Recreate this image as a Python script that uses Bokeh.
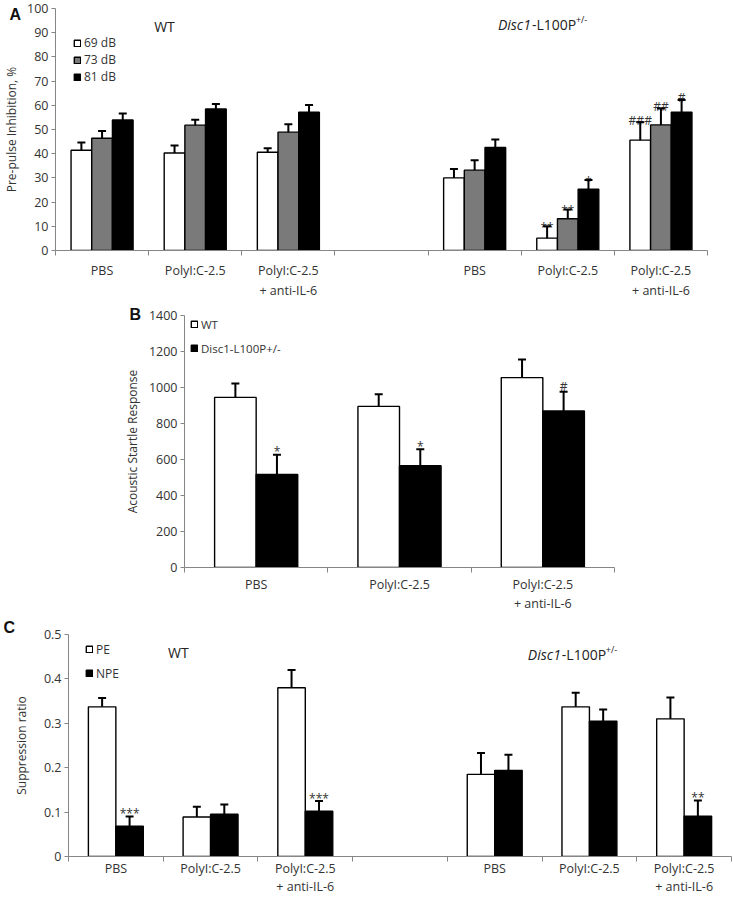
from bokeh.plotting import figure
from bokeh.models import (ColumnDataSource, Range1d, FixedTicker, Legend, LegendItem,
                          Whisker, TeeHead, LinearAxis)
from bokeh.layouts import column
from bokeh.core.properties import value
from bokeh.embed import file_html
from bokeh.resources import INLINE

FONT = "Open Sans"
AX = "#868686"
TXT = "#333333"

# ---------------- data ----------------
treat_line1 = ["PBS", "PolyI:C-2.5", "PolyI:C-2.5"]
treat_line2 = ["", "", "+ anti-IL-6"]

# Panel A: pre-pulse inhibition (%)
a_series = ["69 dB", "73 dB", "81 dB"]
wt_69 = [41.4, 40.3, 40.6]
wt_69_err = [3.2, 3.1, 1.7]
wt_73 = [46.4, 51.8, 48.9]
wt_73_err = [3.0, 2.2, 3.3]
wt_81 = [53.9, 58.5, 57.1]
wt_81_err = [2.7, 2.0, 3.0]
disc_69 = [30.0, 5.1, 45.6]
disc_69_err = [3.7, 4.9, 7.4]
disc_73 = [33.2, 13.1, 51.9]
disc_73_err = [4.1, 3.8, 6.8]
disc_81 = [42.6, 25.3, 57.2]
disc_81_err = [3.3, 3.8, 5.0]
disc_69_sig = ["", "**", "###"]
disc_73_sig = ["", "**", "##"]
disc_81_sig = ["", "*", "#"]

# Panel B: acoustic startle response
b_series = ["WT", "Disc1-L100P+/-"]
asr_wt = [945, 895, 1055]
asr_wt_err = [77, 68, 101]
asr_disc = [517, 565, 870]
asr_disc_err = [110, 92, 106]
asr_disc_sig = ["*", "*", "#"]

# Panel C: suppression ratio
c_series = ["PE", "NPE"]
pe_wt = [0.337, 0.089, 0.380]
pe_wt_err = [0.020, 0.023, 0.040]
npe_wt = [0.068, 0.095, 0.102]
npe_wt_err = [0.022, 0.022, 0.023]
pe_disc = [0.185, 0.337, 0.310]
pe_disc_err = [0.048, 0.032, 0.048]
npe_disc = [0.194, 0.305, 0.091]
npe_disc_err = [0.035, 0.026, 0.035]
npe_wt_sig = ["***", "", "***"]
npe_disc_sig = ["", "", "**"]

FILLS = {"white": "#ffffff", "gray": "#7a7a7a", "black": "#000000"}


def style(p, yticks, ylabel, centers, bounds, line1, line2, ylab_standoff, s1, s2,
          ylabel_overrides=None):
    p.outline_line_color = None
    p.grid.grid_line_color = None
    p.background_fill_color = "white"
    p.border_fill_color = "white"
    ya = p.yaxis[0]
    ya.ticker = FixedTicker(ticks=yticks)
    if ylabel_overrides:
        ya.major_label_overrides = ylabel_overrides
    ya.axis_line_color = AX
    ya.major_tick_line_color = AX
    ya.major_tick_out = 4
    ya.major_tick_in = 0
    ya.minor_tick_line_color = None
    ya.major_label_text_font = FONT
    ya.major_label_text_font_size = "12.5px"
    ya.major_label_text_color = TXT
    ya.major_label_standoff = 3
    ya.axis_label = ylabel
    ya.axis_label_text_font = FONT
    ya.axis_label_text_font_size = "12px"
    ya.axis_label_text_font_style = "normal"
    ya.axis_label_text_color = TXT
    ya.axis_label_standoff = ylab_standoff
    xa = p.xaxis[0]
    xa.ticker = FixedTicker(ticks=centers, minor_ticks=bounds)
    xa.major_label_overrides = {c: l for c, l in zip(centers, line1)}
    xa.axis_line_color = AX
    xa.major_tick_line_color = None
    xa.major_tick_out = 0
    xa.major_tick_in = 0
    xa.minor_tick_line_color = AX
    xa.minor_tick_out = 5
    xa.minor_tick_in = 0
    xa.major_label_text_font = FONT
    xa.major_label_text_font_size = "12.5px"
    xa.major_label_text_color = TXT
    xa.major_label_standoff = s1
    x2 = LinearAxis(ticker=FixedTicker(ticks=centers),
                    major_label_overrides={c: l for c, l in zip(centers, line2)},
                    axis_line_color=None, major_tick_line_color=None,
                    minor_tick_line_color=None, major_tick_out=0, major_tick_in=0,
                    minor_tick_out=0, minor_tick_in=0, major_label_standoff=s2,
                    major_label_text_font=FONT, major_label_text_font_size="12.5px",
                    major_label_text_color=TXT)
    p.add_layout(x2, "below")


def bars(p, xs, tops, errs, fill, width):
    src = ColumnDataSource(dict(x=xs, top=tops, upper=[t + e for t, e in zip(tops, errs)]))
    r = p.vbar(x="x", top="top", width=width, source=src, fill_color=fill,
               line_color="black", line_width=1.4)
    w = Whisker(source=src, base="x", lower="top", upper="upper", dimension="height",
                line_color="black", line_width=2, level="overlay",
                upper_head=TeeHead(size=8, line_color="black", line_width=2),
                lower_head=None)
    p.add_layout(w)
    return r


def sig_marks(p, xs, tops, errs, marks, star_off, hash_off):
    src = ColumnDataSource(dict(x=xs, y=[t + e for t, e in zip(tops, errs)], t=marks,
                                yo=[hash_off if "#" in m else star_off for m in marks]))
    p.text(x="x", y="y", text="t", source=src, text_align="center",
           text_baseline="alphabetic", y_offset="yo", level="overlay",
           text_font=value(FONT), text_font_size="12px", text_color=TXT)


def genotype_title(p, x, y):
    p.text(x=[x], y=[y], text=["Disc1"], text_font=value(FONT), text_font_style="italic",
           text_font_size="14px", text_baseline="middle", text_align="left", text_color="#222222")
    p.text(x=[x], y=[y], text=["-L100P"], x_offset=34, text_font=value(FONT),
           text_font_size="14px", text_baseline="middle", text_align="left", text_color="#222222")
    p.text(x=[x], y=[y], text=["+/-"], x_offset=78, y_offset=-5, text_font=value(FONT),
           text_font_size="9px", text_baseline="middle", text_align="left", text_color="#222222")


def make_legend(p, names, renderers, vx, vy, row_h, fs="12px"):
    leg = Legend(items=[LegendItem(label=n, renderers=[r]) for n, r in zip(names, renderers)],
                 location=(vx, vy), border_line_color=None, background_fill_alpha=0,
                 padding=0, spacing=0, margin=0, label_standoff=3,
                 glyph_width=8, glyph_height=8, label_height=row_h,
                 label_text_font=FONT, label_text_font_size=fs, label_text_color=TXT)
    p.add_layout(leg)


def panel_letter(p, text, offset, standoff):
    t = p.title
    t.text = text
    t.align = "left"
    t.vertical_align = "bottom"
    t.offset = offset
    t.standoff = standoff
    t.text_font = "Liberation Sans"
    t.text_font_style = "bold"
    t.text_font_size = "16px"
    t.text_color = "#111111"


W = 733

# ---------------- Panel A ----------------
centers7 = [i + 0.5 for i in range(3)] + [i + 4.5 for i in range(3)]
bounds7 = list(range(8))
FA = 242
pA = figure(width=W, height=301, x_range=Range1d(0, 7), y_range=Range1d(0, 100),
            output_backend="svg", toolbar_location=None, frame_align=False,
            min_border_left=54, min_border_right=26, min_border_top=8, min_border_bottom=51)
style(pA, list(range(0, 101, 10)), "Pre-pulse Inhibition, %", centers7, bounds7,
      treat_line1 * 2, treat_line2 * 2, 4, 6, 0)
bw = 0.222
rA = []
for k, (wv, we, dv, de, ds, fill) in enumerate([
        (wt_69, wt_69_err, disc_69, disc_69_err, disc_69_sig, FILLS["white"]),
        (wt_73, wt_73_err, disc_73, disc_73_err, disc_73_sig, FILLS["gray"]),
        (wt_81, wt_81_err, disc_81, disc_81_err, disc_81_sig, FILLS["black"])]):
    off = (k - 1) * bw
    xs = [c + off for c in centers7]
    rA.append(bars(pA, xs, wv + dv, we + de, fill, bw))
    sig_marks(pA, xs[3:], dv, de, ds, 1, -2)
pA.text(x=[1.17], y=[92.6], text=["WT"], text_font=value(FONT), text_font_size="14px",
        text_align="center", text_baseline="middle", text_color="#222222")
genotype_title(pA, 4.75, 93.4)
make_legend(pA, a_series, rA, 18, FA - 26 - 51, 17)
panel_letter(pA, "A", -46, -29)

# ---------------- Panel B ----------------
centers3 = [0.5, 1.5, 2.5]
FB = 252
pB = figure(width=W, height=315, x_range=Range1d(0, 3), y_range=Range1d(0, 1400),
            output_backend="svg", toolbar_location=None, frame_align=False,
            min_border_left=184, min_border_right=119, min_border_top=14, min_border_bottom=49)
style(pB, list(range(0, 1401, 200)), "Acoustic Startle Response", centers3, [0, 1, 2, 3],
      treat_line1, treat_line2, 5, 3, -1)
bwB = 0.29
xs_wt = [c - bwB / 2 for c in centers3]
xs_dc = [c + bwB / 2 for c in centers3]
r1 = bars(pB, xs_wt, asr_wt, asr_wt_err, FILLS["white"], bwB)
r2 = bars(pB, xs_dc, asr_disc, asr_disc_err, FILLS["black"], bwB)
sig_marks(pB, xs_dc, asr_disc, asr_disc_err, asr_disc_sig, -3, -5)
make_legend(pB, b_series, [r1, r2], 6, FB + 3 - 48, 24, "11.5px")
panel_letter(pB, "B", -55, -15)

# ---------------- Panel C ----------------
FC = 222
pC = figure(width=W, height=282, x_range=Range1d(0, 7), y_range=Range1d(0, 0.5),
            output_backend="svg", toolbar_location=None, frame_align=False,
            min_border_left=68, min_border_right=2, min_border_top=18, min_border_bottom=42)
cticks = [0, 0.1, 0.2, 0.3, 0.4, 0.5]
style(pC, cticks, "Suppression ratio", centers7, bounds7, treat_line1 * 2, treat_line2 * 2,
      11, -2, -2, {0: "0", 0.1: "0.1", 0.2: "0.2", 0.3: "0.3", 0.4: "0.4", 0.5: "0.5"})
bwC = 0.29
xs_pe = [c - bwC / 2 for c in centers7]
xs_npe = [c + bwC / 2 for c in centers7]
c1 = bars(pC, xs_pe, pe_wt + pe_disc, pe_wt_err + pe_disc_err, FILLS["white"], bwC)
c2 = bars(pC, xs_npe, npe_wt + npe_disc, npe_wt_err + npe_disc_err, FILLS["black"], bwC)
sig_marks(pC, xs_npe, npe_wt + npe_disc, npe_wt_err + npe_disc_err,
          npe_wt_sig + npe_disc_sig, -3, -5)
pC.text(x=[1.16], y=[0.459], text=["WT"], text_font=value(FONT), text_font_size="14px",
        text_align="center", text_baseline="middle", text_color="#222222")
genotype_title(pC, 4.85, 0.455)
make_legend(pC, c_series, [c1, c2], 17, FC - 3 - 48, 24)
panel_letter(pC, "C", -65, -3)

layout = column(pA, pB, pC)
open("out.html", "w").write(file_html(layout, INLINE))
